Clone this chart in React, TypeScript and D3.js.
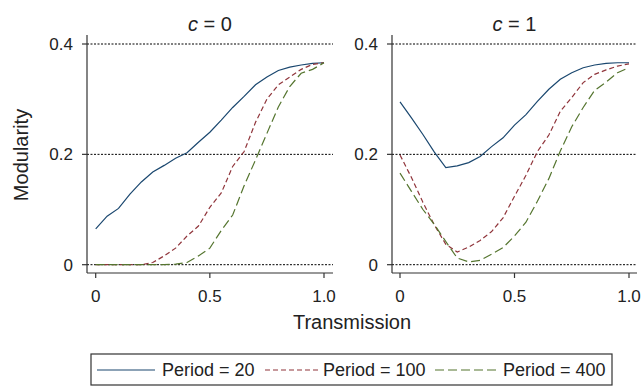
import React from "react";
import * as d3 from "d3";

const transmission = [0, 0.05, 0.1, 0.15, 0.2, 0.25, 0.3, 0.35, 0.4, 0.45, 0.5, 0.55, 0.6, 0.65, 0.7, 0.75, 0.8, 0.85, 0.9, 0.95, 1.0];

const c0_p20 = [0.065, 0.088, 0.102, 0.128, 0.150, 0.168, 0.180, 0.193, 0.203, 0.222, 0.240, 0.262, 0.285, 0.305, 0.326, 0.340, 0.352, 0.358, 0.362, 0.365, 0.366];
const c0_p100 = [0, 0, 0, 0, 0, 0.004, 0.016, 0.030, 0.052, 0.070, 0.104, 0.130, 0.178, 0.205, 0.258, 0.300, 0.326, 0.340, 0.354, 0.363, 0.366];
const c0_p400 = [0, 0, 0, 0, 0, 0, 0, 0.001, 0.004, 0.016, 0.030, 0.062, 0.090, 0.143, 0.190, 0.238, 0.286, 0.323, 0.347, 0.354, 0.366];

const c1_p20 = [0.295, 0.266, 0.236, 0.204, 0.176, 0.179, 0.185, 0.196, 0.214, 0.230, 0.253, 0.272, 0.296, 0.318, 0.336, 0.348, 0.357, 0.362, 0.365, 0.366, 0.366];
const c1_p100 = [0.199, 0.158, 0.113, 0.072, 0.037, 0.023, 0.032, 0.044, 0.060, 0.085, 0.124, 0.162, 0.205, 0.235, 0.278, 0.303, 0.330, 0.345, 0.353, 0.360, 0.364];
const c1_p400 = [0.166, 0.133, 0.100, 0.073, 0.042, 0.012, 0.005, 0.008, 0.019, 0.031, 0.052, 0.077, 0.115, 0.156, 0.206, 0.250, 0.285, 0.316, 0.331, 0.348, 0.357];

const panelTitles = ["0", "1"];
const seriesNames = ["Period = 20", "Period = 100", "Period = 400"];
const xTicks = [0, 0.5, 1.0];
const xTickLabels = ["0", "0.5", "1.0"];
const yTicks = [0, 0.2, 0.4];
const yTickLabels = ["0", "0.2", "0.4"];

const colors = ["#1a476f", "#90353b", "#55752f"];
const dashes = [null, "5,3", "9,4"];
const FONT = "'Liberation Sans', Arial, Helvetica, sans-serif";

const panelsData = [
  [c0_p20, c0_p100, c0_p400],
  [c1_p20, c1_p100, c1_p400],
];

const panels = [
  { axisX: 87, x0: 95.7, x1: 324, right: 333 },
  { axisX: 392, x0: 400, x1: 629, right: 637 },
];

const yScale = d3.scaleLinear().domain([0, 0.4]).range([264.7, 44]);
const axisY = 273;

export default function App() {
  return (
    <svg width={644} height={386} style={{ position: "absolute", left: 0, top: 0, background: "#fff" }} fontFamily={FONT}>
      {panels.map((p, pi) => {
        const xScale = d3.scaleLinear().domain([0, 1]).range([p.x0, p.x1]);
        const line = d3
          .line<number>()
          .x((_, i) => xScale(transmission[i]))
          .y((d) => yScale(d));
        return (
          <g key={pi}>
            {yTicks.map((t) => (
              <line key={t} x1={p.axisX} x2={p.right} y1={yScale(t)} y2={yScale(t)} stroke="#000" strokeWidth={1} strokeDasharray="2,1.5" />
            ))}
            <line x1={p.axisX} x2={p.axisX} y1={35} y2={axisY} stroke="#333" strokeWidth={1.2} />
            <line x1={p.axisX} x2={p.right} y1={axisY} y2={axisY} stroke="#333" strokeWidth={1.2} />
            {yTicks.map((t, i) => (
              <g key={t}>
                <line x1={p.axisX - 5} x2={p.axisX} y1={yScale(t)} y2={yScale(t)} stroke="#333" strokeWidth={1.2} />
                <text x={p.axisX - 14} y={yScale(t)} dy="0.35em" textAnchor="end" fontSize={17} fill="#222">
                  {yTickLabels[i]}
                </text>
              </g>
            ))}
            {xTicks.map((t, i) => (
              <g key={t}>
                <line x1={xScale(t)} x2={xScale(t)} y1={axisY} y2={axisY + 5} stroke="#333" strokeWidth={1.2} />
                <text x={xScale(t)} y={302} textAnchor="middle" fontSize={17} fill="#222">
                  {xTickLabels[i]}
                </text>
              </g>
            ))}
            <text x={(p.axisX + p.right) / 2} y={31} textAnchor="middle" fontSize={20} fill="#222">
              <tspan fontStyle="italic">c</tspan>
              {" = " + panelTitles[pi]}
            </text>
            {panelsData[pi].map((s, si) => (
              <path key={si} d={line(s) || ""} fill="none" stroke={colors[si]} strokeWidth={1.2} strokeDasharray={dashes[si] || undefined} />
            ))}
          </g>
        );
      })}
      <text transform="translate(28,155) rotate(-90)" textAnchor="middle" fontSize={20} fill="#222">
        Modularity
      </text>
      <text x={352} y={329} textAnchor="middle" fontSize={20} fill="#222">
        Transmission
      </text>
      <rect x={91} y={354} width={521} height={31} fill="#fff" stroke="#333" strokeWidth={1.2} />
      {[
        { lx: 97, lw: 58, tx: 162 },
        { lx: 265, lw: 53, tx: 323 },
        { lx: 435, lw: 63, tx: 503 },
      ].map((it, i) => (
        <g key={i}>
          <line x1={it.lx} x2={it.lx + it.lw} y1={370} y2={370} stroke={colors[i]} strokeWidth={1.2} strokeDasharray={dashes[i] || undefined} />
          <text x={it.tx} y={370} dy="0.35em" fontSize={18} fill="#222">
            {seriesNames[i]}
          </text>
        </g>
      ))}
    </svg>
  );
}
